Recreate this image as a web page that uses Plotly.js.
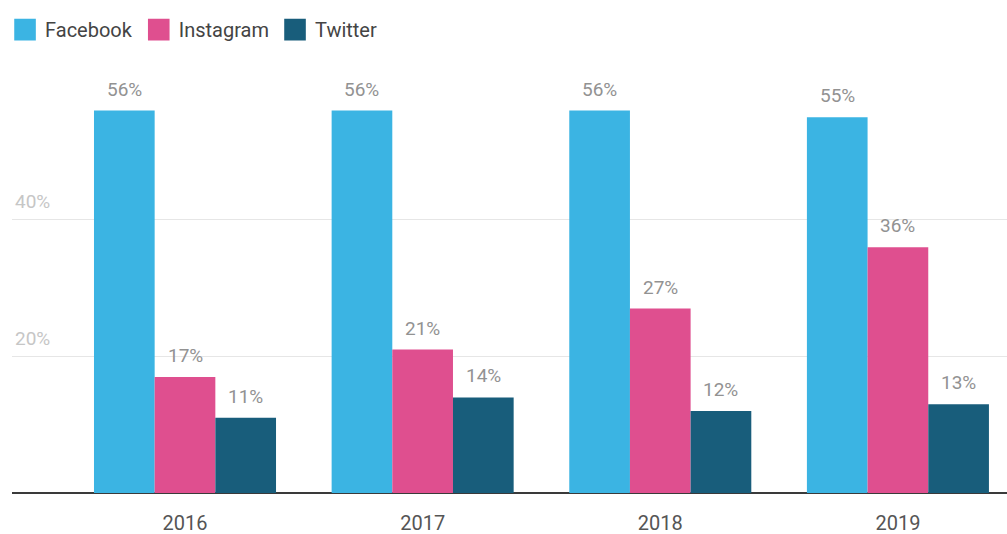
<!DOCTYPE html>
<html>
<head>
<meta charset="utf-8">
<script src="https://cdn.plot.ly/plotly-3.0.1.min.js"></script>
<style>
  html, body { margin: 0; padding: 0; background: #fff; }
  #chart { width: 1007px; height: 534px; }
</style>
</head>
<body>
<div id="chart"></div>
<script>
// Share of users per platform, by year (%)
const years = ['2016', '2017', '2018', '2019'];
const facebook = [56, 56, 56, 55];
const instagram = [17, 21, 27, 36];
const twitter = [11, 14, 12, 13];
const yTicks = [20, 40];
const yTickText = ['20%', '40%'];

const series = [
  { name: 'Facebook', values: facebook, color: '#3bb4e3' },
  { name: 'Instagram', values: instagram, color: '#df4f8f' },
  { name: 'Twitter', values: twitter, color: '#185d7b' }
];

const BARGAP = 0.234;
const barWidth = (1 - BARGAP) / series.length;

const traces = series.map(s => ({
  type: 'bar',
  name: s.name,
  x: years,
  y: s.values,
  marker: { color: s.color, line: { width: 0 } },
  hoverinfo: 'skip'
}));

// value labels above each bar
const annotations = [];
series.forEach((s, si) => {
  const offset = (si - (series.length - 1) / 2) * barWidth;
  s.values.forEach((v, i) => {
    annotations.push({
      x: i + offset,
      y: v,
      xref: 'x', yref: 'y',
      text: v + '%',
      showarrow: false,
      yanchor: 'bottom',
      yshift: 8,
      font: { family: 'Roboto, sans-serif', size: 19, color: '#929292' }
    });
  });
});

const layout = {
  width: 1007,
  height: 534,
  paper_bgcolor: '#ffffff',
  plot_bgcolor: '#ffffff',
  font: { family: 'Roboto, sans-serif', color: '#555' },
  margin: { l: 12, r: 0, t: 60, b: 41 },
  barmode: 'group',
  bargap: BARGAP,
  bargroupgap: 0,
  showlegend: true,
  legend: {
    orientation: 'h',
    xref: 'container', yref: 'container',
    x: 0.005, y: 0.981, xanchor: 'left', yanchor: 'top',
    font: { family: 'Roboto, sans-serif', size: 20, color: '#444' },
    itemwidth: 30,
    tracegroupgap: 0
  },
  annotations: annotations,
  xaxis: {
    type: 'category',
    range: [-0.728, 3.459],
    showgrid: false,
    showline: false,
    zeroline: false,
    ticks: '',
    ticklabelstandoff: 16,
    tickfont: { family: 'Roboto, sans-serif', size: 20, color: '#555' }
  },
  yaxis: {
    range: [0, 63.4],
    tickvals: yTicks,
    ticktext: yTickText,
    ticklabelposition: 'inside top',
    ticklabelshift: -5,
    tickfont: { family: 'Roboto, sans-serif', size: 19, color: '#c6c6c6' },
    showgrid: true,
    gridcolor: '#e6e6e6',
    gridwidth: 1,
    zeroline: true,
    zerolinecolor: '#3a3a3a',
    zerolinewidth: 1.5,
    showline: false,
    ticks: ''
  }
};

Plotly.newPlot('chart', traces, layout, { displayModeBar: false, staticPlot: true }).then(gd => {
  // enlarge the legend swatches and loosen the item spacing a little
  gd.querySelectorAll('.legendpoints path').forEach(p => {
    const t = p.getAttribute('transform') || '';
    p.setAttribute('transform', t + ' scale(1.8)');
  });
  gd.querySelectorAll('.legend .traces').forEach((g, i) => {
    const t = g.getAttribute('transform') || '';
    g.setAttribute('transform', t + ' translate(' + (i * 1) + ',0)');
  });
});
</script>
</body>
</html>
